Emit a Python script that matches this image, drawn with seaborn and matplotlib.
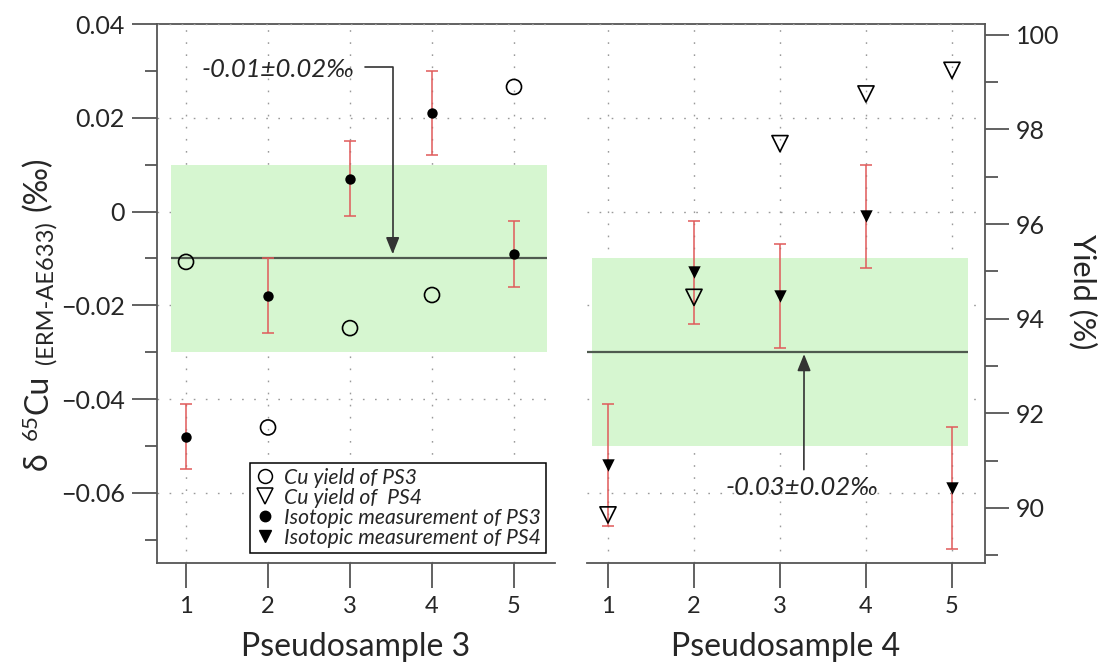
import matplotlib
matplotlib.use("Agg")
import matplotlib.pyplot as plt
from matplotlib.lines import Line2D
from matplotlib.ticker import MultipleLocator, FixedLocator
import pandas as pd
import seaborn as sns

# --- data ---
samples = [1, 2, 3, 4, 5]
sample_labels = ["1", "2", "3", "4", "5"]

ps3_delta = [-0.048, -0.018, 0.007, 0.021, -0.009]
ps3_delta_err = [0.007, 0.008, 0.008, 0.009, 0.007]
ps3_yield = [95.2, 91.7, 93.8, 94.5, 98.9]

ps4_delta = [-0.054, -0.013, -0.018, -0.001, -0.059]
ps4_delta_err = [0.013, 0.011, 0.011, 0.011, 0.013]
ps4_yield = [89.85, 94.45, 97.7, 98.75, 99.25]

ps3_mean, ps3_2sd = -0.01, 0.02
ps4_mean, ps4_2sd = -0.03, 0.02

delta_ticks = [-0.06, -0.04, -0.02, 0, 0.02, 0.04]
delta_labels = ["\u22120.06", "\u22120.04", "\u22120.02", "0", "0.02", "0.04"]
yield_ticks = [90, 92, 94, 96, 98, 100]

legend_labels = ["Cu yield of PS3", "Cu yield of  PS4",
                 "Isotopic measurement of PS3", "Isotopic measurement of PS4"]

# --- style ---
GREEN = "#d6f6d0"
MEAN_LINE = "#4f5a4f"
RED = "#e05a5a"
SPINE = "#555555"
GRID = "#9a9a9a"
FONT = ["Lato", "DejaVu Sans"]

sns.set_theme(style="white")
plt.rcParams["font.family"] = FONT
plt.rcParams["axes.edgecolor"] = SPINE
plt.rcParams["axes.linewidth"] = 1.3

W, H = 1109, 669
fig = plt.figure(figsize=(W / 100, H / 100), dpi=100)


def box(x0, x1, ytop, ybot):
    return [x0 / W, 1 - ybot / H, (x1 - x0) / W, (ybot - ytop) / H]


frame = fig.add_axes(box(157, 985, 24, 562.7))
frame.patch.set_visible(False)
frame.set_xticks([])
frame.set_yticks([])
for side in ["left", "right", "bottom"]:
    frame.spines[side].set_visible(False)

ax1 = fig.add_axes(box(157, 555, 24, 562.7))
ax2 = fig.add_axes(box(587, 985, 24, 562.7))
ax1r = ax1.twinx()
ax2r = ax2.twinx()

ax1.set_xlim(0.646, 5.50)
ax2.set_xlim(0.756, 5.384)
for ax in (ax1, ax2):
    ax.set_ylim(-0.0749, 0.04)
for ax in (ax1r, ax2r):
    ax.set_ylim(88.84, 100.23)

df3 = pd.DataFrame({"sample": samples, "delta": ps3_delta, "err": ps3_delta_err, "yield": ps3_yield})
df4 = pd.DataFrame({"sample": samples, "delta": ps4_delta, "err": ps4_delta_err, "yield": ps4_yield})


def draw_panel(ax, axr, df, mean, sd, band_x, line_x, iso_marker, iso_size, yld_marker, yld_size):
    ax.fill_between(band_x, mean - sd, mean + sd, color=GREEN, lw=0, zorder=1)
    ax.hlines(mean, line_x[0], line_x[1], color=MEAN_LINE, lw=1.6, zorder=2)
    ax.errorbar(df["sample"], df["delta"], yerr=df["err"], fmt="none", ecolor=RED,
                elinewidth=1.1, capsize=4, capthick=1.1, zorder=3)
    sns.scatterplot(data=df, x="sample", y="delta", marker=iso_marker, s=iso_size,
                    color="black", edgecolor="black", linewidth=0, ax=ax, zorder=4)
    sns.scatterplot(data=df, x="sample", y="yield", marker=yld_marker, s=yld_size,
                    facecolors="none", edgecolor="black", linewidth=1.2, ax=axr, zorder=4)


draw_panel(ax1, ax1r, df3, ps3_mean, ps3_2sd, (0.82, 5.40), (0.82, 5.40), "o", 56, "o", 117)
draw_panel(ax2, ax2r, df4, ps4_mean, ps4_2sd, (0.815, 5.185), (0.756, 5.185), "v", 80, "v", 135)
ax2.set_xlim(0.756, 5.384)

# axes decoration
for ax in (ax1, ax2):
    ax.patch.set_visible(False)
    ax.spines["top"].set_visible(False)
    ax.spines["right"].set_visible(False)
    ax.xaxis.set_major_locator(FixedLocator(samples))
    ax.set_xticklabels(sample_labels)
    ax.yaxis.set_major_locator(FixedLocator(delta_ticks))
    ax.yaxis.set_minor_locator(MultipleLocator(0.01))
    ax.grid(True, which="major", color=GRID, linestyle=(0, (1.2, 7.5)), linewidth=1)
    ax.tick_params(axis="x", which="major", direction="out", length=18, width=1.3,
                   color=SPINE, pad=6, labelsize=17, bottom=True)
    ax.tick_params(axis="x", which="minor", direction="out", length=9, width=1.3, color=SPINE)
    ax.set_ylabel("")

ax1.set_yticklabels(delta_labels)
ax1.tick_params(axis="y", which="major", direction="out", length=18, width=1.3,
                color=SPINE, pad=5, labelsize=18, left=True)
ax1.tick_params(axis="y", which="minor", direction="out", length=9, width=1.3, color=SPINE, left=True)

ax2.xaxis.set_minor_locator(FixedLocator([1.5, 2.5, 3.5, 4.5]))
ax2.spines["left"].set_visible(False)
ax2.tick_params(axis="y", which="both", left=False, labelleft=False)

ax1r.set_axis_off()
ax2r.spines["left"].set_visible(False)
ax2r.spines["top"].set_visible(False)
ax2r.spines["bottom"].set_visible(False)
ax2r.yaxis.set_major_locator(FixedLocator(yield_ticks))
ax2r.yaxis.set_minor_locator(MultipleLocator(1))
ax2r.tick_params(axis="y", which="major", direction="out", length=17, width=1.3,
                 color=SPINE, pad=5, labelsize=18, right=True)
ax2r.tick_params(axis="y", which="minor", direction="out", length=9, width=1.3,
                 color=SPINE, right=True)
ax2r.set_ylabel("")

ax1.set_xlabel("Pseudosample 3", fontsize=23, labelpad=11)
ax2.set_xlabel("Pseudosample 4", fontsize=23, labelpad=11)

# mean +/- 2SD annotations
arrow = dict(arrowstyle="-|>,head_length=0.55,head_width=0.22", color="#333333", lw=1.2,
             shrinkB=0)
ax1.annotate("-0.01\u00b10.02\u2030", xy=(3.52, ps3_mean + 0.0009), xytext=(2.12, 0.0302),
             ha="center", va="center", fontsize=18.5, style="italic",
             arrowprops=dict(arrow, connectionstyle="angle,angleA=0,angleB=90,rad=0",
                             relpos=(1.0, 0.62), shrinkA=5))
ax2.annotate("-0.03\u00b10.02\u2030", xy=(3.28, ps4_mean - 0.0004), xytext=(3.26, -0.0588),
             ha="center", va="center", fontsize=18.5, style="italic",
             arrowprops=dict(arrow, relpos=(0.51, 1.0), shrinkA=2))

# legend
handles = [
    Line2D([], [], ls="none", marker="o", ms=10, mfc="none", mec="black", mew=1.1),
    Line2D([], [], ls="none", marker="v", ms=11, mfc="none", mec="black", mew=1.1),
    Line2D([], [], ls="none", marker="o", ms=7.5, mfc="black", mec="black"),
    Line2D([], [], ls="none", marker="v", ms=8.5, mfc="black", mec="black"),
]
leg = ax1r.legend(handles, legend_labels, loc="upper left", bbox_to_anchor=(0.234, 0.186),
                  borderaxespad=0, frameon=True, fancybox=False, framealpha=1,
                  edgecolor="black", handlelength=0.9, handletextpad=0.45,
                  labelspacing=0.0, borderpad=0.25,
                  prop=dict(family=FONT, style="italic", size=15.2))
leg.get_frame().set_linewidth(1.1)

# y labels built from pieces (mixed sizes)
renderer = fig.canvas.get_renderer()
label_pieces = [("\u03b4", 23, 47, 12), ("65", 16, 37, 1), ("Cu", 23, 47, 10),
                ("(ERM-AE633)", 17, 53, 10), ("(\u2030)", 23, 47, 0)]
ypos = H - 470
for text, size, xbase, gap in label_pieces:
    t = fig.text(xbase / W, ypos / H, text, fontsize=size, rotation=90,
                 rotation_mode="anchor", ha="left", va="baseline", family=FONT)
    ypos += t.get_window_extent(renderer).height + gap

fig.text(1083 / W, 1 - 292 / H, "Yield (%)", fontsize=22, rotation=-90,
         ha="center", va="center", family=FONT)

fig.savefig("out.png", dpi=100, facecolor="white")
